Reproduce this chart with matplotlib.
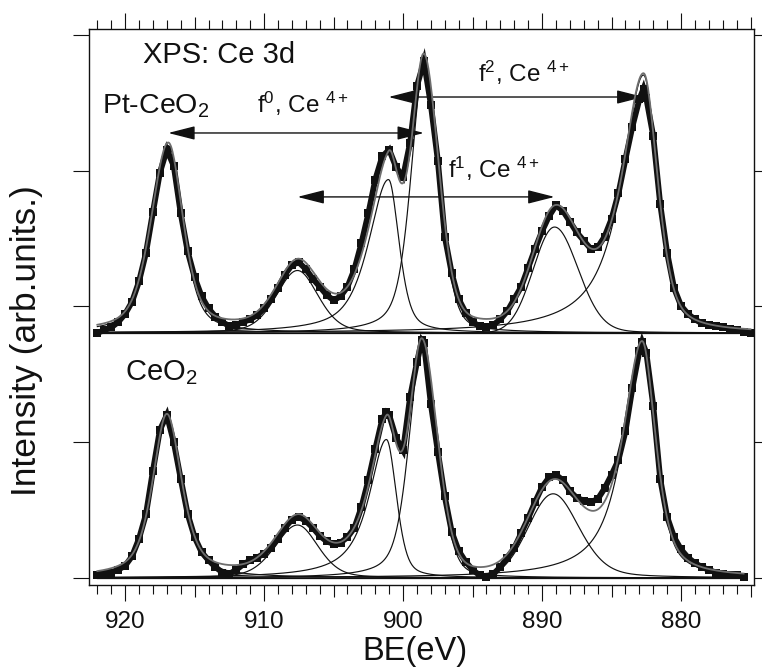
import numpy as np
import matplotlib
matplotlib.use("Agg")
import matplotlib.pyplot as plt
from matplotlib.ticker import FixedLocator, MultipleLocator, FuncFormatter
from matplotlib.patches import ArrowStyle

plt.rcParams['font.family'] = ['Liberation Sans', 'DejaVu Sans']
plt.rcParams['mathtext.fontset'] = 'custom'
plt.rcParams['mathtext.rm'] = 'Liberation Sans'
plt.rcParams['mathtext.it'] = 'Liberation Sans:italic'
plt.rcParams['mathtext.bf'] = 'Liberation Sans:bold'

INK = '#111111'

# ---------------- data ----------------
# CeO2 (lower spectrum): binding energy (eV) and intensity (arb. units)
be_ceo2 = [922.0, 921.5, 921.0, 920.5, 920.0, 919.5, 919.0, 918.5, 918.0, 917.5,
           917.0, 916.5, 916.0, 915.5, 915.0, 914.5, 914.0, 913.5, 913.0, 912.5,
           912.0, 911.5, 911.0, 910.5, 910.0, 909.5, 909.0, 908.5, 908.0, 907.5,
           907.0, 906.5, 906.0, 905.5, 905.0, 904.5, 904.0, 903.5, 903.0, 902.5,
           902.0, 901.5, 901.2, 901.0, 900.5, 900.0, 899.5, 899.0, 898.65, 898.5, 898.0, 897.5,
           897.0, 896.5, 896.0, 895.5, 895.0, 894.5, 894.0, 893.5, 893.0, 892.5,
           892.0, 891.5, 891.0, 890.5, 890.0, 889.5, 889.0, 888.5, 888.0, 887.5,
           887.0, 886.5, 886.0, 885.5, 885.0, 884.5, 884.0, 883.5, 883.0, 882.8, 882.5,
           882.0, 881.5, 881.0, 880.5, 880.0, 879.5, 879.0, 878.5, 878.0, 877.5,
           877.0, 876.5, 876.0, 875.5]
int_ceo2 = [0.02, 0.03, 0.04, 0.06, 0.09, 0.16, 0.29, 0.47, 0.79, 1.09,
            1.20, 1.00, 0.73, 0.47, 0.30, 0.19, 0.13, 0.08, 0.04, 0.03,
            0.06, 0.10, 0.13, 0.15, 0.18, 0.22, 0.29, 0.37, 0.43, 0.45,
            0.42, 0.37, 0.31, 0.27, 0.25, 0.26, 0.30, 0.37, 0.52, 0.72,
            0.95, 1.17, 1.22, 1.20, 1.03, 0.94, 1.33, 1.59, 1.75, 1.73, 1.28, 0.93,
            0.60, 0.34, 0.20, 0.12, 0.06, 0.02, 0.01, 0.03, 0.08, 0.15,
            0.22, 0.33, 0.44, 0.56, 0.67, 0.74, 0.76, 0.72, 0.64, 0.59,
            0.57, 0.56, 0.58, 0.66, 0.76, 0.87, 1.08, 1.40, 1.67, 1.74, 1.66,
            1.27, 0.73, 0.45, 0.30, 0.21, 0.15, 0.11, 0.08, 0.06, 0.04,
            0.03, 0.02, 0.02, 0.01]

# Pt-CeO2 (upper spectrum)
be_pt = [922.0, 921.5, 921.0, 920.5, 920.0, 919.5, 919.0, 918.5, 918.0, 917.5,
         917.0, 916.5, 916.0, 915.5, 915.0, 914.5, 914.0, 913.5, 913.0, 912.5,
         912.0, 911.5, 911.0, 910.5, 910.0, 909.5, 909.0, 908.5, 908.0, 907.5,
         907.0, 906.5, 906.0, 905.5, 905.0, 904.5, 904.0, 903.5, 903.0, 902.5,
         902.0, 901.5, 901.0, 900.5, 900.0, 899.5, 899.0, 898.5, 898.0, 897.5,
         897.0, 896.5, 896.0, 895.5, 895.0, 894.5, 894.0, 893.5, 893.0, 892.5,
         892.0, 891.5, 891.0, 890.5, 890.0, 889.5, 889.0, 888.5, 888.0, 887.5,
         887.0, 886.5, 886.0, 885.5, 885.0, 884.5, 884.0, 883.5, 883.0, 882.7, 882.5,
         882.0, 881.5, 881.0, 880.5, 880.0, 879.5, 879.0, 878.5, 878.0, 877.5,
         877.0, 876.5, 876.0, 875.5, 875.0]
int_pt = [0.00, 0.02, 0.04, 0.08, 0.14, 0.23, 0.38, 0.59, 0.89, 1.18,
          1.35, 1.23, 0.88, 0.60, 0.41, 0.27, 0.18, 0.12, 0.08, 0.05,
          0.06, 0.08, 0.10, 0.13, 0.18, 0.25, 0.33, 0.43, 0.50, 0.52,
          0.47, 0.40, 0.34, 0.28, 0.24, 0.27, 0.34, 0.47, 0.66, 0.88,
          1.13, 1.30, 1.35, 1.22, 1.15, 1.40, 1.82, 2.00, 1.68, 1.27,
          0.71, 0.44, 0.25, 0.15, 0.08, 0.05, 0.04, 0.06, 0.10, 0.16,
          0.25, 0.34, 0.48, 0.62, 0.75, 0.86, 0.94, 0.90, 0.82, 0.74,
          0.68, 0.62, 0.63, 0.71, 0.84, 1.03, 1.28, 1.52, 1.72, 1.80, 1.73,
          1.45, 0.95, 0.59, 0.33, 0.20, 0.14, 0.10, 0.07, 0.06, 0.05,
          0.04, 0.03, 0.02, 0.01, 0.00]
offset_pt = 1.805

# fitted components: u''', u'', u, v''', v'', v
# centre (eV), height, half-widths on high-BE / low-BE side, Lorentz fraction on each side
ceo2_center = [917.0, 907.6, 901.2, 898.65, 889.2, 882.8]
ceo2_height = [1.19, 0.39, 1.02, 1.70, 0.62, 1.72]
ceo2_whi = [1.20, 1.90, 1.50, 1.10, 2.10, 1.65]
ceo2_wlo = [1.25, 1.75, 0.85, 1.30, 2.20, 1.15]
ceo2_ehi = [0.6, 0.3, 0.9, 0.5, 0.0, 0.9]
ceo2_elo = [0.6, 0.3, 0.4, 0.2, 0.3, 0.6]

pt_center = [916.9, 907.6, 901.05, 898.5, 889.1, 882.7]
pt_height = [1.38, 0.46, 1.13, 1.96, 0.78, 1.90]
pt_whi = [1.45, 1.80, 1.70, 1.10, 1.80, 1.90]
pt_wlo = [1.25, 1.75, 0.90, 1.25, 2.00, 1.20]
pt_ehi = [0.45, 0.3, 0.7, 0.5, 0.0, 0.95]
pt_elo = [0.5, 0.3, 0.5, 0.25, 0.1, 0.5]

y_ticks = [0, 1, 2, 3, 4]
x_major = [920, 915, 910, 905, 900, 895, 890, 885, 880, 875]


def component(E, c, h, whi, wlo, ehi, elo):
    d = E - c
    w = np.where(d > 0, whi, wlo)
    eta = np.where(d > 0, ehi, elo)
    x2 = (d / w) ** 2
    return h * (eta / (1.0 + x2) + (1.0 - eta) * np.exp(-np.log(2.0) * x2))


fig = plt.figure(figsize=(7.62, 6.72), dpi=100, facecolor='white')
ax = fig.add_axes([89 / 762, 1 - 585 / 672, 665 / 762, 556 / 672])

spectra = [
    (be_ceo2, int_ceo2, 0.0, ceo2_center, ceo2_height, ceo2_whi, ceo2_wlo, ceo2_ehi, ceo2_elo),
    (be_pt, int_pt, offset_pt, pt_center, pt_height, pt_whi, pt_wlo, pt_ehi, pt_elo),
]
for be, vals, off, cen, hei, whi, wlo, ehi, elo in spectra:
    be = np.asarray(be)
    vals = np.asarray(vals)
    ax.plot(be, vals + off, ls='-', lw=4.2, color=INK, marker='s', ms=6.2,
            mew=0, zorder=2, solid_joinstyle='miter')
    Ef = np.linspace(be.max(), be.min(), 800)
    ax.plot([be.max(), be.min()], [off, off], color=INK, lw=0.9, zorder=3)
    total = np.zeros_like(Ef)
    for i in range(len(cen)):
        y = component(Ef, cen[i], hei[i], whi[i], wlo[i], ehi[i], elo[i])
        total += y
        ax.plot(Ef, y + off, color=INK, lw=0.85, zorder=3)
    ax.plot(Ef, total + off, color='#6e6e6e', lw=1.3, zorder=4)

ax.set_xlim(922.6, 874.75)
ax.set_ylim(-0.052, 4.044)

ax.xaxis.set_major_locator(FixedLocator(x_major))
ax.xaxis.set_major_formatter(FuncFormatter(lambda v, p: '%d' % v if round(v) % 10 == 0 else ''))
ax.xaxis.set_minor_locator(MultipleLocator(1))
ax.tick_params(axis='x', which='major', direction='out', length=11.5, width=0.8,
               top=True, bottom=True, labelsize=17.5, pad=7, colors=INK)
ax.tick_params(axis='x', which='minor', direction='out', length=6.3, width=0.8,
               top=True, bottom=True, colors=INK)
locs = ax.xaxis.get_majorticklocs()
for loc, t in zip(locs, ax.xaxis.get_major_ticks(len(locs))):
    if round(loc) % 10 != 0:
        t.tick1line.set_markersize(8.5)
        t.tick2line.set_markersize(8.5)

ax.set_yticks(y_ticks)
ax.tick_params(axis='y', which='major', direction='out', length=11.5, width=0.8,
               left=True, right=True, labelleft=False, colors=INK)
for s in ax.spines.values():
    s.set_linewidth(1.0)
    s.set_color(INK)

ax.set_xlabel('BE(eV)', fontsize=23.5, color=INK, va='top')
ax.xaxis.set_label_coords((415 - 89) / 665, -0.0917)
ax.set_ylabel('Intensity (arb.units.)', fontsize=25.5, color=INK, ha='center', va='center')
ax.yaxis.set_label_coords((27 - 89) / 665, (585 - 341) / 556)


def axpos(px, py):
    return (px - 89) / 665, (585 - py) / 556


def label(px, py, s, size):
    x, y = axpos(px, py)
    ax.text(x, y, s, transform=ax.transAxes, fontsize=size, ha='left', va='baseline', color=INK)


label(143, 63, 'XPS: Ce 3d', 21)
label(102, 113, r'Pt-CeO$_2$', 20.5)
label(125, 380, r'CeO$_2$', 21)
label(257, 113, r'$\mathrm{f}^{0}$, Ce $^{4+}$', 17.5)
label(478, 82, r'$\mathrm{f}^{2}$, Ce $^{4+}$', 17.5)
label(448, 178, r'$\mathrm{f}^{1}$, Ce $^{4+}$', 17.5)

style = ArrowStyle('<|-|>', head_length=1.1, head_width=0.28)
arrow_rows = [(0, 3, 3.278), (2, 5, 3.543), (1, 4, 2.807)]  # (from comp, to comp, height)
for a, b, yv in arrow_rows:
    ax.annotate('', xy=(pt_center[b], yv), xytext=(pt_center[a], yv),
                arrowprops=dict(arrowstyle=style, color=INK, lw=1.0,
                                shrinkA=0, shrinkB=0, mutation_scale=15))

fig.savefig('out.png', dpi=100, facecolor='white')
